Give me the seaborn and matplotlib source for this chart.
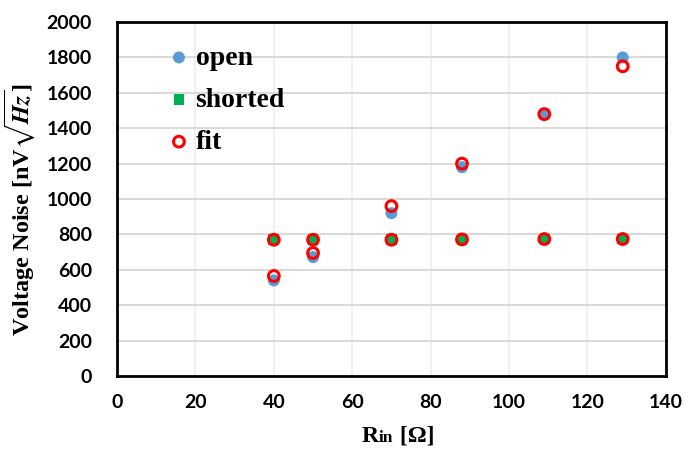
import matplotlib
matplotlib.use("Agg")
import matplotlib.pyplot as plt
import seaborn as sns
import pandas as pd
from matplotlib.offsetbox import TextArea, HPacker, AnchoredOffsetbox

r_in = [40, 50, 70, 88, 109, 129]
open_noise = [540, 672, 920, 1180, 1475, 1800]
shorted_noise = [770, 770, 770, 772, 774, 774]
fit_open = [565, 695, 960, 1200, 1480, 1750]
fit_shorted = [770, 770, 770, 772, 774, 774]

sns.set_theme(style="white")
plt.rcParams['font.family'] = ['Lato', 'DejaVu Sans']
plt.rcParams['text.color'] = 'black'
plt.rcParams['axes.labelcolor'] = 'black'
plt.rcParams['mathtext.fontset'] = 'stix'

df_open = pd.DataFrame({"x": r_in, "y": open_noise})
df_short = pd.DataFrame({"x": r_in, "y": shorted_noise})
df_fit = pd.DataFrame({"x": r_in + r_in, "y": fit_open + fit_shorted})

fig = plt.figure(figsize=(6.86, 4.5), dpi=100)
ax = fig.add_axes([0.1706, 0.1644, 0.80, 0.7866])

sns.scatterplot(data=df_open, x="x", y="y", ax=ax, marker="o", s=75,
                color="#5B9BD5", edgecolor="none", label="open", zorder=3)
sns.scatterplot(data=df_short, x="x", y="y", ax=ax, marker="s", s=60,
                color="#00B050", edgecolor="none", label="shorted", zorder=4)
sns.scatterplot(data=df_fit, x="x", y="y", ax=ax, marker="o", s=60,
                facecolor="none", edgecolor="#FF0000", linewidth=2.2, label="fit", zorder=5)

ax.set_xlim(0, 140)
ax.set_ylim(0, 2000)
ax.set_xticks(range(0, 141, 20))
ax.set_yticks(range(0, 2001, 200))
ax.yaxis.grid(True, color="#D9D9D9", linewidth=1.4)
ax.xaxis.grid(True, color="#EDEDED", linewidth=1.2)
ax.set_axisbelow(True)
for sp in ax.spines.values():
    sp.set_color("black")
    sp.set_linewidth(2)
ax.tick_params(axis="y", labelsize=14, length=0, pad=18)
ax.tick_params(axis="x", labelsize=14, length=0, pad=13)
for lab in ax.get_xticklabels() + ax.get_yticklabels():
    lab.set_fontweight("bold")
    lab.set_color("black")

ax.set_xlabel("")
ax.set_ylabel(r"Voltage Noise [nV$\sqrt{\mathbfit{Hz}}$]", fontsize=17.5, family="Liberation Serif",
              fontweight="bold", color="black")
ax.yaxis.set_label_coords(-0.146, 0.47)

xl = HPacker(children=[
    TextArea("R", textprops=dict(family="Liberation Serif", weight="bold", size=17, color="black")),
    TextArea("in", textprops=dict(family="Liberation Serif", weight="bold", size=12.5, color="black")),
    TextArea(" [Ω]", textprops=dict(family="Liberation Serif", weight="bold", size=17, color="black")),
], align="baseline", pad=0, sep=0)
anch = AnchoredOffsetbox(loc="upper center", child=xl, pad=0, frameon=False,
                         bbox_to_anchor=(0.512, -0.14), bbox_transform=ax.transAxes,
                         borderpad=0)
ax.add_artist(anch)

leg = ax.legend(loc="upper left", bbox_to_anchor=(0.047, 1.005), frameon=False,
                prop={"family": "Liberation Serif", "weight": "bold", "size": 20},
                handlelength=0.8, handletextpad=0.2, labelspacing=0.6, markerscale=1.0)

fig.savefig("out.png", dpi=100)
